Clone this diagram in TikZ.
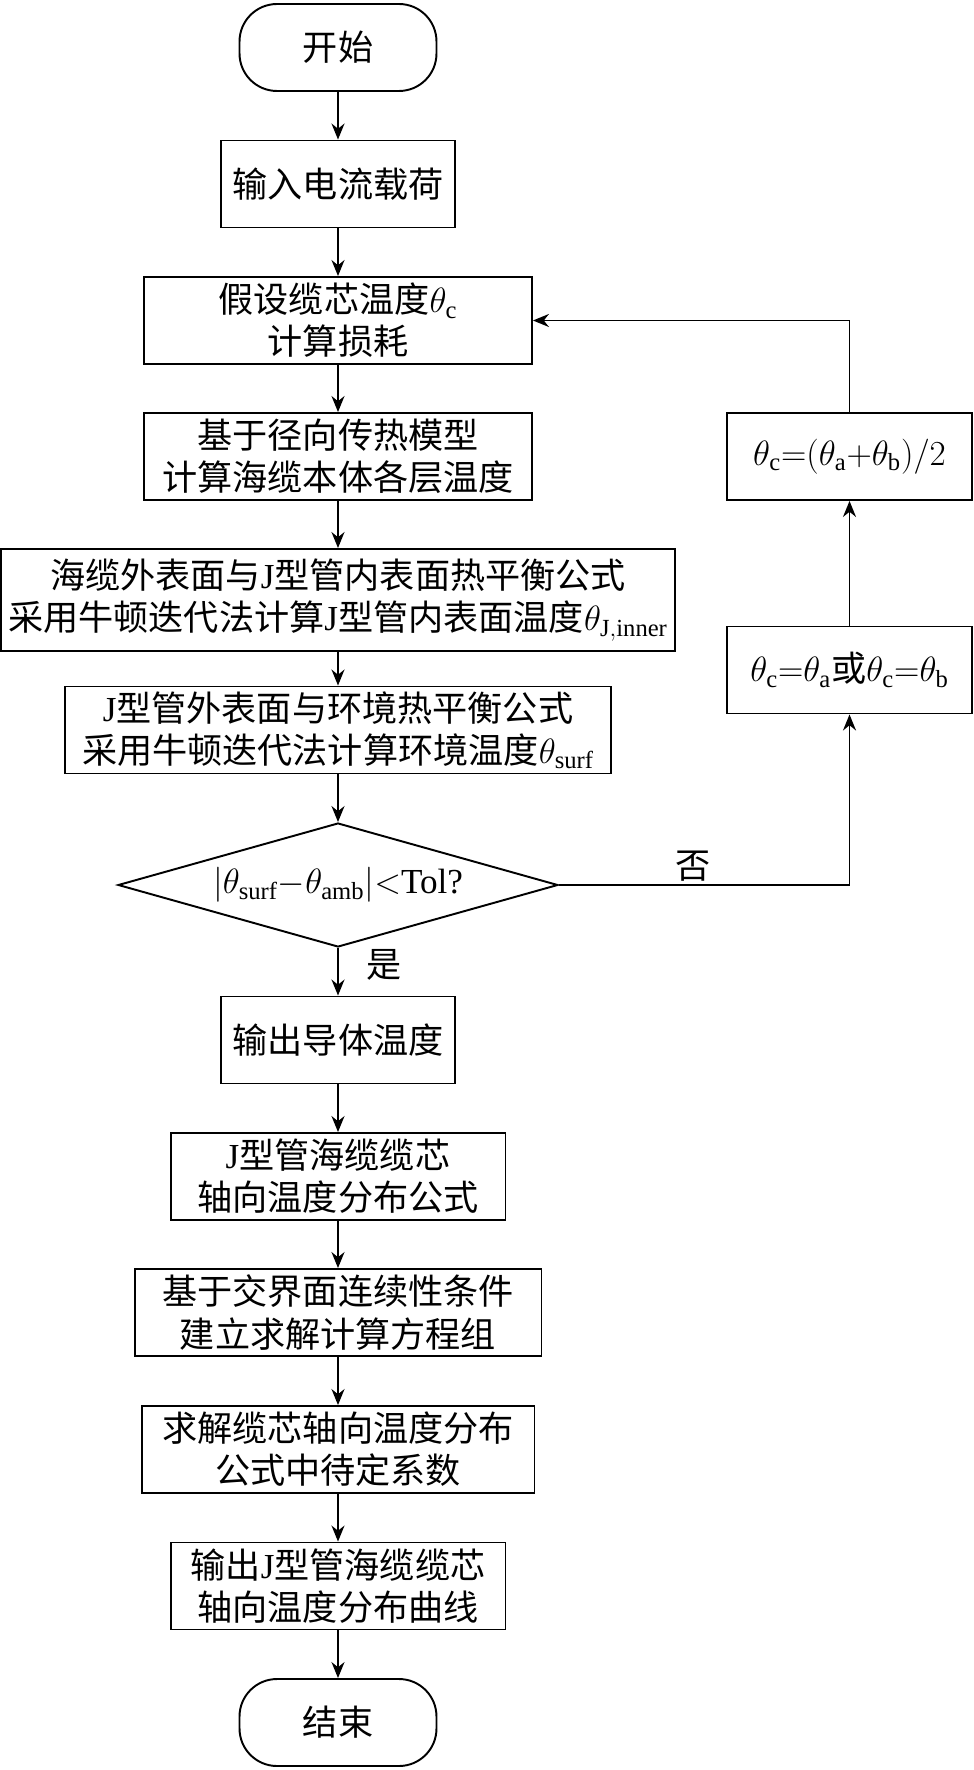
\RequirePackage{fix-cm}
\documentclass[tikz,border=0pt]{standalone}
\usepackage{fontspec}
\setmainfont{Liberation Serif}
\newfontfamily\cjk{Noto Sans CJK SC}
\usetikzlibrary{shapes.geometric,arrows.meta}
\newcommand{\letterJ}{{\rmfamily J}}

\begin{document}
\begin{tikzpicture}
		[x=0.02cm, y=-0.02cm, line width=1.1pt,
		font=\fontsize{20}{24}\selectfont\cjk,
		box/.style={draw, rectangle, inner sep=0pt, minimum height=1.74cm, align=center},
		term/.style={draw, rectangle, rounded corners=0.75cm, minimum width=3.94cm, minimum height=1.74cm},
		flow/.style={-{Stealth[length=0.32cm, width=0.26cm]}}]
		\useasboundingbox (0,0) rectangle (973,1770);

		% main column
		\node[term] (start) at (338,47.5) {开始};
		\node[box, minimum width=4.68cm] (input) at (338,184) {输入电流载荷};
		\node[box, minimum width=7.76cm] (assume) at (338,320.5) {假设缆芯温度$\theta_{\mathrm{c}}$\\计算损耗};
		\node[box, minimum width=7.76cm] (radial) at (338,456.5) {基于径向传热模型\\计算海缆本体各层温度};
		\node[box, minimum width=13.5cm, minimum height=2.04cm] (inner) at (338,600) {海缆外表面与\letterJ 型管内表面热平衡公式\\采用牛顿迭代法计算\letterJ 型管内表面温度$\theta_{\mathrm{J,inner}}$};
		\node[box, minimum width=10.94cm] (surf) at (338,730) {\letterJ 型管外表面与环境热平衡公式\\采用牛顿迭代法计算环境温度$\theta_{\mathrm{surf}}$};
		\node[draw, diamond, aspect=3.5, inner sep=0pt, minimum width=8.8cm, minimum height=2.48cm,
			font=\fontsize{20}{24}\selectfont\rmfamily] (check) at (338,885)
			{$\Bigl|\theta_{\mathrm{surf}}{-}\theta_{\mathrm{amb}}\Bigr|{<}$Tol?};
		\node[box, minimum width=4.68cm] (output) at (338,1040) {输出导体温度};
		\node[box, minimum width=6.7cm] (axial) at (338,1176.5) {\letterJ 型管海缆缆芯\\轴向温度分布公式};
		\node[box, minimum width=8.14cm] (system) at (338,1312.5) {基于交界面连续性条件\\建立求解计算方程组};
		\node[box, minimum width=7.86cm] (coeff) at (338,1449.5) {求解缆芯轴向温度分布\\公式中待定系数};
		\node[box, minimum width=6.7cm] (curve) at (338,1586) {输出\letterJ 型管海缆缆芯\\轴向温度分布曲线};
		\node[term] (stop) at (338,1722.5) {结束};

		% loop on the right
		\node[box, minimum width=4.9cm] (avg) at (849.5,456.5) {$\theta_{\mathrm{c}}{=}(\theta_{\mathrm{a}}{+}\theta_{\mathrm{b}})/2$};
		\node[box, minimum width=4.9cm] (pick) at (849.5,670) {$\theta_{\mathrm{c}}{=}\theta_{\mathrm{a}}$或$\theta_{\mathrm{c}}{=}\theta_{\mathrm{b}}$};

		\foreach \a/\b in {start/input, input/assume, assume/radial, radial/inner, inner/surf, surf/check,
			output/axial, axial/system, system/coeff, coeff/curve, curve/stop}
			\draw[flow] (\a) -- (\b);
		\draw[flow] (check) -- node[pos=0.36, right=0.56cm, inner sep=0pt] {是} (output);
		\draw[flow] (check.east) -| node[pos=0.23, above=0.05cm, inner sep=0pt] {否} (pick.south);
		\draw[flow] (pick) -- (avg);
		\draw[flow] (avg.north) |- (assume.east);
	\end{tikzpicture}
\end{document}
